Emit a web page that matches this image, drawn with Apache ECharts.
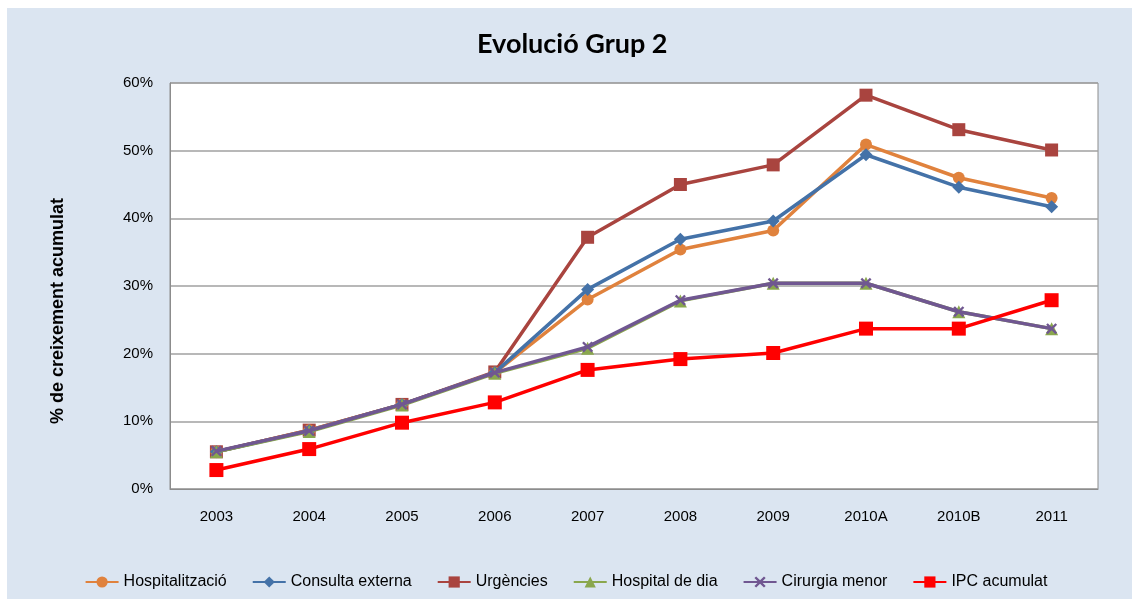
<!DOCTYPE html>
<html>
<head>
<meta charset="utf-8">
<script src="https://cdn.jsdelivr.net/npm/echarts@6/dist/echarts.min.js"></script>
<style>
  html, body { margin: 0; padding: 0; background: #ffffff; }
  #bg { position: absolute; left: 7px; top: 8px; width: 1125px; height: 591px; background: #dbe5f1; }
  #chart { position: absolute; left: 0; top: 0; width: 1132px; height: 599px; }
</style>
</head>
<body>
<div id="bg"></div>
<div id="chart"></div>
<script>
const categories = ['2003', '2004', '2005', '2006', '2007', '2008', '2009', '2010A', '2010B', '2011']

const hospitalitzacio = [5.5, 8.7, 12.5, 17.2, 28.0, 35.4, 38.2, 50.9, 46.0, 43.0]
const consultaExterna = [5.5, 8.6, 12.5, 17.2, 29.5, 36.9, 39.6, 49.4, 44.6, 41.7]
const urgencies = [5.5, 8.7, 12.5, 17.3, 37.2, 45.0, 47.9, 58.2, 53.1, 50.1]
const hospitalDia = [5.5, 8.5, 12.4, 17.1, 20.8, 27.8, 30.4, 30.4, 26.2, 23.7]
const cirurgiaMenor = [5.6, 8.6, 12.5, 17.2, 21.0, 27.9, 30.4, 30.4, 26.2, 23.7]
const ipcAcumulat = [2.8, 5.9, 9.8, 12.8, 17.6, 19.2, 20.1, 23.7, 23.7, 27.9]

const yTicks = { min: 0, max: 60, interval: 10 }

const crossPath = 'path://M0,1.5L1.5,0L5,3.5L8.5,0L10,1.5L6.5,5L10,8.5L8.5,10L5,6.5L1.5,10L0,8.5L3.5,5Z'

const chart = echarts.init(document.getElementById('chart'))

function line(name, data, color, symbol, size, z) {
  return {
    name,
    type: 'line',
    data,
    symbol,
    symbolSize: size,
    z,
    lineStyle: { width: 3.5, color },
    itemStyle: { color },
    emphasis: { disabled: true },
  }
}

const option = {
  animation: false,
  textStyle: { fontFamily: 'Liberation Sans, Arial, sans-serif' },
  title: {
    text: 'Evolució Grup 2',
    left: 472,
    top: 26,
    textStyle: { fontFamily: 'Lato, Open Sans, sans-serif', fontWeight: 'bold', fontSize: 27, color: '#000' },
  },
  graphic: [
    {
      type: 'text',
      left: 49,
      top: 198,
      rotation: Math.PI / 2,
      style: {
        text: '% de creixement acumulat',
        fontFamily: 'Liberation Sans, Arial, sans-serif',
        fontWeight: 'bold',
        fontSize: 18,
        fill: '#000',
      },
    },
  ],
  legend: {
    top: 569,
    left: 'center',
    itemWidth: 33,
    itemHeight: 14,
    itemGap: 25,
    textStyle: { fontSize: 16, color: '#000' },
    data: ['Hospitalització', 'Consulta externa', 'Urgències', 'Hospital de dia', 'Cirurgia menor', 'IPC acumulat'],
  },
  grid: {
    left: 170,
    right: 34,
    top: 83,
    bottom: 110,
    show: true,
    backgroundColor: '#ffffff',
    borderColor: '#8c8c8c',
    borderWidth: 1,
  },
  xAxis: {
    type: 'category',
    data: categories,
    boundaryGap: true,
    axisLine: { lineStyle: { color: '#8c8c8c' } },
    axisTick: { show: false },
    axisLabel: { fontSize: 15, color: '#000', margin: 20 },
  },
  yAxis: {
    type: 'value',
    min: yTicks.min,
    max: yTicks.max,
    interval: yTicks.interval,
    axisLine: { show: true, lineStyle: { color: '#8c8c8c' } },
    axisTick: { show: false },
    axisLabel: { fontSize: 15, color: '#000', margin: 17, formatter: '{value}%' },
    splitLine: { lineStyle: { color: '#a0a0a0', width: 1.5 } },
  },
  series: [
    line('Hospitalització', hospitalitzacio, '#e0823d', 'circle', 12, 3),
    line('Consulta externa', consultaExterna, '#4472a8', 'diamond', 13, 4),
    line('Urgències', urgencies, '#a9443f', 'rect', 13, 2),
    line('Hospital de dia', hospitalDia, '#8aa74d', 'triangle', 13, 5),
    line('Cirurgia menor', cirurgiaMenor, '#705791', crossPath, 11, 6),
    line('IPC acumulat', ipcAcumulat, '#ff0000', 'rect', 14, 7),
  ],
}

chart.setOption(option)
</script>
</body>
</html>
